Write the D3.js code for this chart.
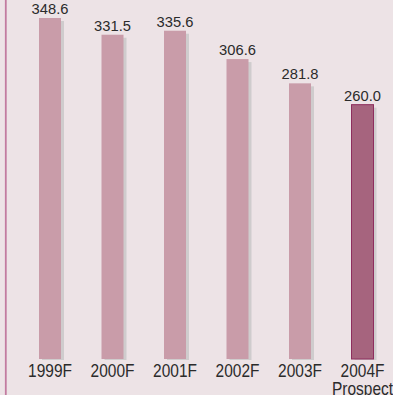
<!DOCTYPE html>
<html>
<head>
<meta charset="utf-8">
<script src="https://cdn.jsdelivr.net/npm/d3@7"></script>
<style>
  body { margin: 0; background: #ede3e6; }
  svg { display: block; }
  text { font-family: "Liberation Sans", Arial, sans-serif; fill: #2b2b2b; }
</style>
</head>
<body>
<svg width="393" height="395"></svg>
<script>
// data
var years = ['1999F', '2000F', '2001F', '2002F', '2003F', '2004F'];
var values = [348.6, 331.5, 335.6, 306.6, 281.8, 260.0];
var highlight = '2004F';
var subLabel = 'Prospect';

var svg = d3.select('svg');
var width = +svg.attr('width');
var height = +svg.attr('height');

var baseY = 359;
var barW = 22;
var squeeze = 0.86; // the original font is a condensed face

var data = years.map(function(y, i) { return {year: y, value: values[i]}; });

var xScale = d3.scalePoint().domain(years).range([50, 362.5]);
var yScale = d3.scaleLinear().domain([0, 367]).range([baseY, 0]);

// background + left rule
svg.append('rect').attr('width', width).attr('height', height).attr('fill', '#ede3e6');
svg.append('line')
    .attr('x1', 5.8).attr('x2', 5.8)
    .attr('y1', 0).attr('y2', height)
    .attr('stroke', '#c27ba0')
    .attr('stroke-width', 1.8);

// shadows
svg.selectAll('.shadow')
    .data(data)
    .enter().append('rect')
    .attr('class', 'shadow')
    .attr('x', d => xScale(d.year) - barW / 2 + 3)
    .attr('y', d => yScale(d.value) + 3)
    .attr('width', barW)
    .attr('height', d => baseY - yScale(d.value) - 2)
    .attr('fill', '#cfcccd');

// bars
svg.selectAll('.bar')
    .data(data)
    .enter().append('rect')
    .attr('class', 'bar')
    .attr('x', d => xScale(d.year) - barW / 2)
    .attr('y', d => yScale(d.value))
    .attr('width', barW)
    .attr('height', d => baseY - yScale(d.value))
    .attr('fill', d => d.year === highlight ? '#a6647e' : '#c99ca9')
    .attr('stroke', d => d.year === highlight ? '#8e2e5e' : 'none')
    .attr('stroke-width', 1);

// value labels
svg.selectAll('.value')
    .data(data)
    .enter().append('text')
    .attr('class', 'value')
    .attr('transform', d => 'translate(' + xScale(d.year) + ',' + (yScale(d.value) - 4) + ') scale(0.95,1)')
    .attr('text-anchor', 'middle')
    .style('font-size', '15.5px')
    .text(d => d.value.toFixed(1));

// category labels
svg.selectAll('.cat')
    .data(data)
    .enter().append('text')
    .attr('class', 'cat')
    .attr('transform', d => 'translate(' + xScale(d.year) + ',377) scale(' + squeeze + ',1)')
    .attr('text-anchor', 'middle')
    .style('font-size', '18px')
    .text(d => d.year);

svg.append('text')
    .attr('transform', 'translate(' + xScale(highlight) + ',394.5) scale(' + squeeze + ',1)')
    .attr('text-anchor', 'middle')
    .style('font-size', '18px')
    .text(subLabel);
</script>
</body>
</html>
